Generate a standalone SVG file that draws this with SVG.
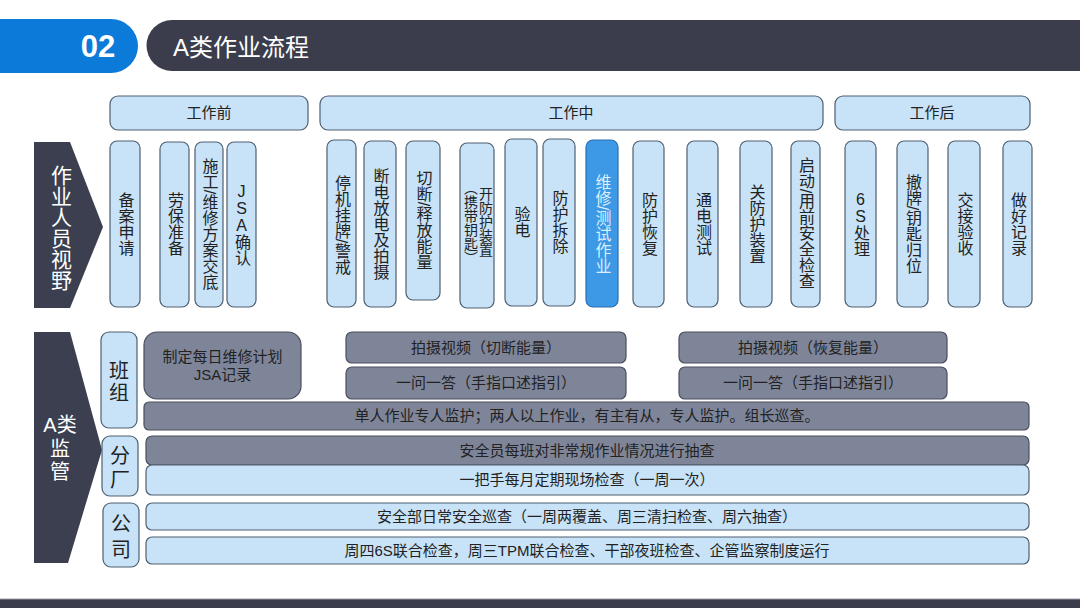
<svg xmlns="http://www.w3.org/2000/svg" width="1080" height="608" viewBox="0 0 1080 608">
<style>
.lb{fill:#c8e3f7;stroke:#4f5f70;stroke-width:1.2}
.dk{fill:#7f8599;stroke:#4a4e60;stroke-width:1.2}
.hl{fill:#3d98e6;stroke:#2a6fb0;stroke-width:1.2}
.ch{fill:#3b3f50}
.t{font-family:"Liberation Sans","Noto Sans CJK SC",sans-serif;font-size:15px;fill:#222;text-anchor:middle}
.v{writing-mode:vertical-rl;font-size:16px}
.up{text-orientation:upright}
.w{fill:#ffffff}
.big{font-size:20px}
.two{font-size:14px}
</style>
<rect width="1080" height="608" fill="#ffffff"/>
<g id="title">
<path d="M0,19 H111 A27,27 0 0 1 111,73 H0 Z" fill="#0b7ad8"/>
<text x="98" y="57" font-family="Liberation Sans,sans-serif" font-weight="bold" font-size="31" fill="#ffffff" text-anchor="middle">02</text>
<path d="M172,20 H1080 V71 H172 A25.5,25.5 0 0 1 172,20 Z" fill="#3b3d4c"/>
<text x="173" y="56" font-family="Liberation Sans,'Noto Sans CJK SC',sans-serif" font-size="24" fill="#ffffff">A类作业流程</text>
</g>
<rect x="0" y="599" width="1080" height="9" fill="#3b3d4c"/>
<line x1="0" y1="599" x2="1080" y2="599" stroke="#9a9ca6" stroke-width="1"/>

<g id="phase-before"><rect class="lb" x="110" y="96" width="198" height="34" rx="8"/><text class="t" x="209" y="118">工作前</text></g>
<g id="phase-during"><rect class="lb" x="320" y="96" width="503" height="34" rx="8"/><text class="t" x="571" y="118">工作中</text></g>
<g id="phase-after"><rect class="lb" x="835" y="96" width="195" height="34" rx="8"/><text class="t" x="932" y="118">工作后</text></g>

<g id="worker-view"><path class="ch" d="M34,142 H70 L103,227 L70,308 H34 Z"/><text class="t v w" x="60" y="228" style="font-size:21px">作业人员视野</text></g>

<g id="s1"><rect class="lb" x="110" y="141" width="30" height="166" rx="7"/><text class="t v" x="125" y="224">备案申请</text></g>
<g id="s2"><rect class="lb" x="160" y="142" width="29" height="165" rx="7"/><text class="t v" x="174.5" y="224">劳保准备</text></g>
<g id="s3"><rect class="lb" x="195" y="142" width="28" height="165" rx="7"/><text class="t v" x="209" y="224">施工/维修方案交底</text></g>
<g id="s4"><rect class="lb" x="227" y="142" width="29" height="165" rx="7"/><text class="t v up" x="241.5" y="224">JSA确认</text></g>
<g id="s5"><rect class="lb" x="327" y="140" width="29" height="167" rx="7"/><text class="t v" x="341.5" y="225">停机挂牌/警戒</text></g>
<g id="s6"><rect class="lb" x="364" y="141" width="32" height="166" rx="7"/><text class="t v" x="380" y="224">断电放电及拍摄</text></g>
<g id="s7"><rect class="lb" x="406" y="141" width="34" height="159" rx="7"/><text class="t v" x="423" y="220">切断/释放能量</text></g>
<g id="s8"><rect class="lb" x="460" y="143" width="34" height="165" rx="7"/><text class="t v two" x="485" y="222">开防护装置</text><text class="t v two" x="470" y="223">（携带钥匙）</text></g>
<g id="s9"><rect class="lb" x="505" y="139" width="32" height="167" rx="7"/><text class="t v" x="521" y="222">验电</text></g>
<g id="s10"><rect class="lb" x="543" y="139" width="32" height="167" rx="7"/><text class="t v" x="559" y="222">防护拆除</text></g>
<g id="s11"><rect class="hl" x="586" y="140" width="32" height="167" rx="7"/><text class="t v" x="602" y="224" style="fill:#dcefff">维修/测试作业</text></g>
<g id="s12"><rect class="lb" x="633" y="141" width="31" height="166" rx="7"/><text class="t v" x="648.5" y="224">防护恢复</text></g>
<g id="s13"><rect class="lb" x="687" y="141" width="31" height="166" rx="7"/><text class="t v" x="702.5" y="224">通电测试</text></g>
<g id="s14"><rect class="lb" x="740" y="141" width="32" height="166" rx="7"/><text class="t v" x="756" y="224">关防护装置</text></g>
<g id="s15"><rect class="lb" x="791" y="141" width="29" height="166" rx="7"/><text class="t v" x="805.5" y="223">启动/用前安全检查</text></g>
<g id="s16"><rect class="lb" x="845" y="141" width="31" height="166" rx="7"/><text class="t v up" x="860.5" y="224">6S处理</text></g>
<g id="s17"><rect class="lb" x="897" y="141" width="31" height="166" rx="7"/><text class="t v" x="912.5" y="224">撤牌/钥匙归位</text></g>
<g id="s18"><rect class="lb" x="948" y="141" width="32" height="166" rx="7"/><text class="t v" x="964" y="224">交接验收</text></g>
<g id="s19"><rect class="lb" x="1003" y="141" width="29" height="166" rx="7"/><text class="t v" x="1017.5" y="224">做好记录</text></g>

<g id="a-supervision"><path class="ch" d="M34,332 H70 L102,450 L68,563 H34 Z"/>
<text class="t w big" x="60" y="432">A类</text><text class="t w big" x="60" y="456">监</text><text class="t w big" x="60" y="479">管</text></g>

<g id="team"><rect class="lb" x="101" y="332" width="36" height="96" rx="8"/><text class="t big" x="119" y="378">班</text><text class="t big" x="119" y="400">组</text></g>
<g id="branch"><rect class="lb" x="102" y="436" width="36" height="60" rx="8"/><text class="t big" x="120" y="463">分</text><text class="t big" x="120" y="487">厂</text></g>
<g id="company"><rect class="lb" x="103" y="503" width="36" height="64" rx="8"/><text class="t big" x="121" y="531">公</text><text class="t big" x="121" y="557">司</text></g>

<g id="plan"><rect class="dk" x="144" y="332" width="157" height="67" rx="13"/><text class="t" x="222.5" y="362">制定每日维修计划</text><text class="t" x="222.5" y="380">JSA记录</text></g>
<g id="video-cut"><rect class="dk" x="346" y="332" width="280" height="31" rx="6"/><text class="t" x="486" y="353">拍摄视频（切断能量）</text></g>
<g id="qa-1"><rect class="dk" x="346" y="367" width="280" height="32" rx="6"/><text class="t" x="486" y="388">一问一答（手指口述指引）</text></g>
<g id="video-restore"><rect class="dk" x="679" y="332" width="268" height="31" rx="6"/><text class="t" x="813" y="353">拍摄视频（恢复能量）</text></g>
<g id="qa-2"><rect class="dk" x="679" y="367" width="268" height="32" rx="6"/><text class="t" x="813" y="388">一问一答（手指口述指引）</text></g>
<g id="monitor"><rect class="dk" x="144" y="402" width="885" height="28" rx="5"/><text class="t" x="587" y="421">单人作业专人监护；两人以上作业，有主有从，专人监护。组长巡查。</text></g>
<g id="spot-check"><rect class="dk" x="146" y="436" width="883" height="29" rx="6"/><text class="t" x="587" y="456">安全员每班对非常规作业情况进行抽查</text></g>
<g id="monthly"><rect class="lb" x="146" y="465" width="883" height="30" rx="6"/><text class="t" x="587" y="485">一把手每月定期现场检查（一周一次）</text></g>
<g id="patrol"><rect class="lb" x="146" y="503" width="883" height="27" rx="6"/><text class="t" x="587" y="522">安全部日常安全巡查（一周两覆盖、周三清扫检查、周六抽查）</text></g>
<g id="joint"><rect class="lb" x="146" y="537" width="883" height="27" rx="6"/><text class="t" x="587" y="556">周四6S联合检查，周三TPM联合检查、干部夜班检查、企管监察制度运行</text></g>
</svg>
